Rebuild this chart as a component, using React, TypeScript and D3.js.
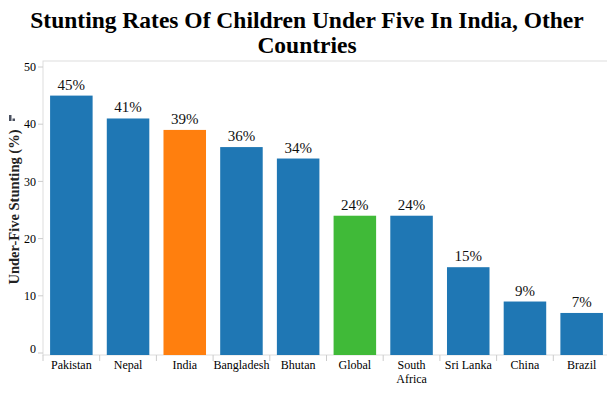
import React, { useRef, useEffect } from 'react';
import * as d3 from 'd3';

const countries = ["Pakistan", "Nepal", "India", "Bangladesh", "Bhutan", "Global", "South Africa", "Sri Lanka", "China", "Brazil"];
const stunting = [45, 41, 39, 36, 34, 24, 24, 15, 9, 7];
const barColors = ["#1f77b4", "#1f77b4", "#ff7f0e", "#1f77b4", "#1f77b4", "#40ba38", "#1f77b4", "#1f77b4", "#1f77b4", "#1f77b4"];
const yTicks = [0, 10, 20, 30, 40, 50];

const FONT = "'Liberation Serif', 'DejaVu Serif', serif";

const App = () => {
    const svgRef = useRef(null);

    useEffect(() => {
        const svgWidth = 615;
        const svgHeight = 395;
        const frame = { left: 43, right: 610, top: 61, bottom: 355 };

        const svg = d3.select(svgRef.current);
        svg.selectAll("*").remove();
        svg.attr("width", svgWidth).attr("height", svgHeight);

        svg.append("rect").attr("width", svgWidth).attr("height", svgHeight).attr("fill", "#fff");

        // title
        const title = svg.append("text")
            .attr("text-anchor", "middle")
            .attr("font-family", FONT)
            .attr("font-weight", "bold")
            .attr("font-size", 23.5)
            .attr("fill", "#000");
        title.append("tspan").attr("x", 307).attr("y", 28).text("Stunting Rates Of Children Under Five In India, Other");
        title.append("tspan").attr("x", 307).attr("y", 53).text("Countries");

        const x = d3.scaleBand()
            .domain(countries)
            .range([frame.left, frame.right])
            .paddingInner(0.25)
            .paddingOuter(0.125);

        const y = d3.scaleLinear()
            .domain([0, 50])
            .range([353, 67]);

        // frame
        svg.append("rect")
            .attr("x", frame.left)
            .attr("y", frame.top)
            .attr("width", frame.right - frame.left)
            .attr("height", frame.bottom - frame.top)
            .attr("fill", "none")
            .attr("stroke", "#ddd");

        // bars
        svg.append("g").selectAll("rect")
            .data(countries)
            .enter()
            .append("rect")
            .attr("x", (d) => x(d))
            .attr("y", (d, i) => y(stunting[i]))
            .attr("width", x.bandwidth())
            .attr("height", (d, i) => frame.bottom - y(stunting[i]))
            .attr("fill", (d, i) => barColors[i]);

        // value labels
        svg.append("g").selectAll("text")
            .data(countries)
            .enter()
            .append("text")
            .attr("x", (d) => x(d) + x.bandwidth() / 2)
            .attr("y", (d, i) => y(stunting[i]) - 6)
            .attr("text-anchor", "middle")
            .attr("font-family", FONT)
            .attr("font-size", 15)
            .attr("fill", "#111")
            .text((d, i) => `${stunting[i]}%`);

        // y axis ticks & labels (end labels pulled inside, like labelFlush)
        const yAxis = svg.append("g");
        yTicks.forEach((t, i) => {
            yAxis.append("line")
                .attr("x1", frame.left - 5).attr("x2", frame.left)
                .attr("y1", y(t)).attr("y2", y(t))
                .attr("stroke", "#ccc");
            const shift = i === 0 ? -4 : 0;
            yAxis.append("text")
                .attr("x", frame.left - 7)
                .attr("y", y(t) + shift)
                .attr("dy", "0.35em")
                .attr("text-anchor", "end")
                .attr("font-family", FONT)
                .attr("font-size", 12)
                .attr("fill", "#000")
                .text(t);
        });

        // x axis: tick marks at band edges, labels centred
        const step = x.step();
        const xAxis = svg.append("g");
        countries.forEach((c) => {
            const edge = x(c) - (step - x.bandwidth()) / 2;
            xAxis.append("line")
                .attr("x1", edge).attr("x2", edge)
                .attr("y1", frame.bottom).attr("y2", frame.bottom + 6)
                .attr("stroke", "#ccc");
            const words = c === "South Africa" ? ["South", "Africa"] : [c];
            const label = xAxis.append("text")
                .attr("text-anchor", "middle")
                .attr("font-family", FONT)
                .attr("font-size", 12)
                .attr("fill", "#000");
            words.forEach((w, j) => {
                label.append("tspan")
                    .attr("x", x(c) + x.bandwidth() / 2)
                    .attr("y", 369 + j * 14)
                    .text(w);
            });
        });
        xAxis.append("line")
            .attr("x1", frame.right).attr("x2", frame.right)
            .attr("y1", frame.bottom).attr("y2", frame.bottom + 6)
            .attr("stroke", "#ccc");

        // y axis title
        svg.append("text")
            .attr("transform", `translate(19, 207) rotate(-90)`)
            .attr("text-anchor", "middle")
            .attr("font-family", FONT)
            .attr("font-weight", "bold")
            .attr("font-size", 15)
            .attr("textLength", 155)
            .attr("lengthAdjust", "spacingAndGlyphs")
            .attr("fill", "#222")
            .text("Under-Five Stunting (%)");

        // little bar icon
        const icon = svg.append("g").attr("fill", "#4a5060");
        icon.append("rect").attr("x", 5.5).attr("y", 111).attr("width", 2.5).attr("height", 10);
        icon.append("rect").attr("x", 9).attr("y", 115).attr("width", 2.5).attr("height", 6);
        icon.append("rect").attr("x", 12.5).attr("y", 118.5).attr("width", 2.5).attr("height", 2.5);
    }, []);

    return (
        <div style={{ margin: -8 }}>
            <svg ref={svgRef} style={{ display: "block" }} />
        </div>
    );
};

export default App;
